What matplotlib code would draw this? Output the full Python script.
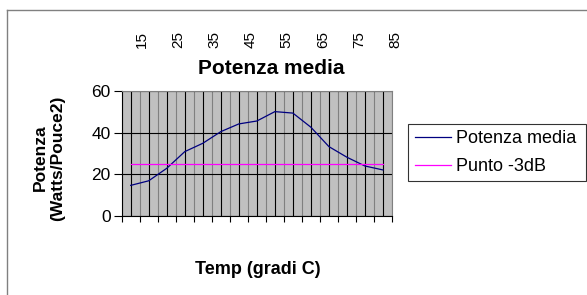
import matplotlib
matplotlib.use("Agg")
import matplotlib.pyplot as plt
import matplotlib.transforms as mtransforms
from matplotlib.lines import Line2D
import numpy as np

# ---- data ----
potenza_media = [14.7, 16.9, 22.9, 30.9, 34.9, 40.5, 44.2, 45.6, 50.1, 49.4,
                 42.6, 33.3, 28.2, 24.0, 22.1]
punto_3db = [24.9] * 15
top_labels = [15, 25, 35, 45, 55, 65, 75, 85]
y_ticks = [0, 20, 40, 60]

W, H = 587, 295
plt.rcParams['font.family'] = ['Liberation Sans', 'DejaVu Sans']
fig = plt.figure(figsize=(W / 100, H / 100), dpi=100)
fig.patch.set_facecolor('white')

L, R, T, B = 121.7, 392.0, 91.0, 216.0
ax = fig.add_axes([L / W, 1 - B / H, (R - L) / W, (B - T) / H])
ax.set_facecolor('#C0C0C0')

n = len(potenza_media)
x = np.arange(n)
ax.plot(x, potenza_media, color='#000080', lw=0.9, label='Potenza media', zorder=3)
ax.plot(x, punto_3db, color='#FF00FF', lw=0.9, label='Punto -3dB', zorder=3)

ax.set_xlim(-0.5, n - 0.5)
ax.set_ylim(0, 60)

# ticks / grids
ax.set_xticks(np.arange(n + 1) - 0.5)
ax.set_xticks(x, minor=True)
ax.set_xticklabels([])
ax.tick_params(axis='x', which='major', direction='out', length=4, width=0.8, color='black')
ax.tick_params(axis='x', which='minor', length=0)
ax.set_yticks(y_ticks)
ax.set_yticklabels([str(v) for v in y_ticks], fontsize=12.5)
ax.tick_params(axis='y', direction='out', length=6, width=0.8, pad=2)
ax.set_axisbelow(True)
ax.grid(axis='x', which='major', color='#808080', lw=0.8)
ax.grid(axis='x', which='minor', color='black', lw=0.8)
ax.grid(axis='y', which='major', color='black', lw=0.8)

for s in ['left', 'bottom']:
    ax.spines[s].set_color('black')
    ax.spines[s].set_linewidth(0.8)
for s in ['top', 'right']:
    ax.spines[s].set_color('#808080')
    ax.spines[s].set_linewidth(0.8)

# top labels (secondary scale)
trans = mtransforms.blended_transform_factory(ax.transData, ax.transAxes)
for v in top_labels:
    xd = 0.611 + (v - 15) * 0.2011
    ax.text(xd, (B - 40) / (B - T), str(v), rotation=90, ha='center', va='center',
            fontsize=11, transform=trans, clip_on=False)

# title and axis labels
fig.text(270.8 / W, 1 - 68.3 / H, 'Potenza media', ha='center', va='center',
         fontsize=15, fontweight='bold')
fig.text(49 / W, 1 - 158 / H, 'Potenza\n(Watts/Pouce2)', ha='center', va='center',
         rotation=90, fontsize=12.5, fontweight='bold', linespacing=1.25)
fig.text(258 / W, 1 - 270 / H, 'Temp (gradi C)', ha='center', va='center',
         fontsize=13, fontweight='bold')

# legend
lx0, ly0, lx1, ly1 = 408.3, 124.0, 586.0, 182.7
leg = fig.legend(loc='upper left',
                 bbox_to_anchor=(lx0 / W, 1 - ly1 / H, (lx1 - lx0) / W, (ly1 - ly0) / H),
                 mode='expand', fontsize=13, frameon=True, fancybox=False,
                 edgecolor='black', handlelength=2.0, handletextpad=0.3,
                 borderpad=0.35, labelspacing=0.6, borderaxespad=0)
leg.get_frame().set_linewidth(0.8)

# outer chart border
fig.add_artist(Line2D([7.3 / W, 1.05], [1 - 10 / H, 1 - 10 / H], color='#808080', lw=1,
                      transform=fig.transFigure))
fig.add_artist(Line2D([7.3 / W, 7.3 / W], [1 - 10 / H, -0.05], color='#808080', lw=1,
                      transform=fig.transFigure))

fig.savefig('out.png', dpi=100)
